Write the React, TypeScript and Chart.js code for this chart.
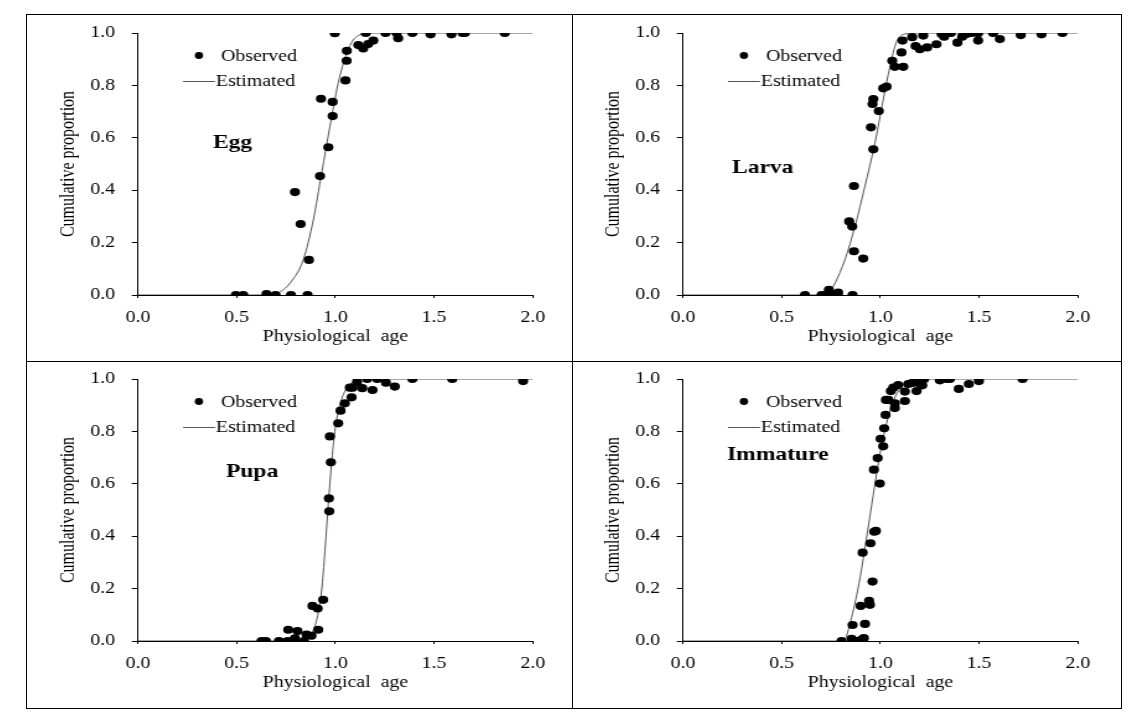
import React, { useEffect, useRef } from "react";
import { Chart, registerables } from "chart.js";

Chart.register(...registerables);

// ---------------- data ----------------
const xTickValues = [0, 0.5, 1.0, 1.5, 2.0];
const yTickValues = [0, 0.2, 0.4, 0.6, 0.8, 1.0];

const stageNames = ["Egg", "Larva", "Pupa", "Immature"];
const legendLabels = ["Observed", "Estimated"];
const xAxisTitle = "Physiological  age";
const yAxisTitle = "Cumulative proportion";

// Egg
const eggObsX = [0.496, 0.533, 0.651, 0.697, 0.775, 0.859, 0.866, 0.824, 0.795, 0.922, 0.964, 0.986, 0.986, 0.927, 1.051, 1.057, 1.058, 0.997, 1.116, 1.141, 1.166, 1.192, 1.154, 1.254, 1.31, 1.318, 1.39, 1.482, 1.588, 1.644, 1.656, 1.858];
const eggObsY = [0, 0, 0.003, 0, 0, 0, 0.134, 0.271, 0.393, 0.454, 0.564, 0.683, 0.737, 0.749, 0.819, 0.894, 0.932, 0.999, 0.954, 0.941, 0.958, 0.971, 1.0, 1.0, 1.0, 0.98, 1.0, 0.995, 0.995, 1.0, 1.0, 1.0];
const eggFitX = [0, 0.68, 0.72, 0.77, 0.837, 0.888, 0.93, 0.972, 1.014, 1.057, 1.09, 1.14, 1.2, 2.0];
const eggFitY = [0, 0, 0.012, 0.045, 0.134, 0.286, 0.464, 0.642, 0.808, 0.922, 0.973, 0.996, 1.0, 1.0];

// Larva
const larvaObsX = [0.618, 0.702, 0.722, 0.739, 0.753, 0.786, 0.859, 0.866, 0.913, 0.842, 0.857, 0.866, 0.964, 0.952, 0.992, 0.96, 0.964, 1.014, 1.031, 1.06, 1.073, 1.116, 1.107, 1.112, 1.161, 1.217, 1.178, 1.2, 1.237, 1.284, 1.31, 1.323, 1.357, 1.39, 1.414, 1.436, 1.462, 1.495, 1.495, 1.571, 1.605, 1.711, 1.816, 1.922];
const larvaObsY = [0, 0, 0, 0.02, 0, 0.009, 0, 0.167, 0.139, 0.281, 0.261, 0.416, 0.556, 0.64, 0.702, 0.729, 0.748, 0.789, 0.795, 0.894, 0.871, 0.871, 0.926, 0.971, 0.984, 0.99, 0.95, 0.938, 0.945, 0.957, 0.996, 0.986, 1.0, 0.963, 0.986, 0.996, 1.0, 0.999, 0.971, 1.0, 0.977, 0.992, 0.995, 1.0];
const larvaFitX = [0, 0.72, 0.75, 0.77, 0.82, 0.871, 0.921, 0.972, 1.014, 1.048, 1.082, 1.124, 1.2, 2.0];
const larvaFitY = [0, 0, 0.02, 0.045, 0.134, 0.261, 0.413, 0.579, 0.744, 0.871, 0.967, 0.996, 1.0, 1.0];

// Pupa
const pupaObsX = [0.626, 0.648, 0.714, 0.761, 0.758, 0.795, 0.808, 0.841, 0.854, 0.879, 0.913, 0.884, 0.91, 0.938, 0.969, 0.967, 0.977, 0.972, 1.014, 1.026, 1.048, 1.082, 1.073, 1.087, 1.11, 1.136, 1.161, 1.188, 1.212, 1.256, 1.301, 1.39, 1.592, 1.951];
const pupaObsY = [0, 0, 0, 0.043, 0, 0.01, 0.038, 0, 0.024, 0.02, 0.043, 0.134, 0.124, 0.157, 0.495, 0.544, 0.682, 0.781, 0.831, 0.879, 0.907, 0.93, 0.967, 0.967, 0.989, 0.965, 1.0, 0.958, 1.0, 0.986, 0.971, 1.0, 1.0, 0.992];
const pupaFitX = [0, 0.84, 0.871, 0.904, 0.93, 0.947, 0.964, 0.98, 0.997, 1.023, 1.057, 1.107, 1.16, 2.0];
const pupaFitY = [0, 0, 0.02, 0.077, 0.191, 0.343, 0.521, 0.673, 0.8, 0.901, 0.965, 0.994, 1.0, 1.0];

// Immature
const immObsX = [0.803, 0.854, 0.879, 0.905, 0.916, 0.859, 0.922, 0.9, 0.943, 0.947, 0.96, 0.91, 0.95, 0.969, 0.977, 0.997, 0.967, 0.986, 1.014, 1.001, 1.019, 1.026, 1.073, 1.028, 1.04, 1.073, 1.053, 1.065, 1.09, 1.124, 1.124, 1.141, 1.161, 1.183, 1.192, 1.212, 1.222, 1.301, 1.335, 1.352, 1.397, 1.448, 1.499, 1.72];
const immObsY = [0, 0.008, 0, 0.005, 0.011, 0.061, 0.065, 0.134, 0.153, 0.138, 0.227, 0.337, 0.373, 0.417, 0.42, 0.601, 0.654, 0.698, 0.743, 0.772, 0.812, 0.863, 0.889, 0.92, 0.92, 0.907, 0.954, 0.967, 0.977, 0.916, 0.952, 0.981, 0.985, 0.954, 0.985, 0.976, 1.0, 0.995, 1.0, 1.0, 0.962, 0.981, 0.992, 1.0];
const immFitX = [0, 0.812, 0.854, 0.897, 0.93, 0.964, 0.997, 1.031, 1.065, 1.107, 1.157, 1.22, 2.0];
const immFitY = [0, 0, 0.09, 0.242, 0.394, 0.559, 0.711, 0.831, 0.914, 0.971, 0.994, 1.0, 1.0];

// ---------------- layout ----------------
const S = 1.24; // horizontal stretch of the original figure
const CW = 438;
const CH = 345;
const AREA_LEFT = 88.7;
const AREA_W = 318.5;
const X_H = 65;
const FONT = "'Liberation Serif', 'Times New Roman', serif";

type PanelDef = {
  left: number;
  top: number;
  areaTop: number;
  stage: string;
  obsX: number[];
  obsY: number[];
  fitX: number[];
  fitY: number[];
  lx: number;
  ly: number;
};

const zip = (xs: number[], ys: number[]) => xs.map((x, i) => ({ x, y: ys[i] }));

const annotPlugin = {
  id: "annot",
  afterDatasetsDraw(chart: any, _args: any, opts: any) {
    const { ctx, chartArea } = chart;
    const L = chartArea.left;
    const T = chartArea.top;
    const px = (d: number) => L + d / S;
    ctx.save();
    ctx.fillStyle = "#000";
    ctx.beginPath();
    ctx.arc(px(61), T + 22.5, 3.4, 0, Math.PI * 2);
    ctx.fill();
    ctx.font = `16px ${FONT}`;
    ctx.textBaseline = "alphabetic";
    ctx.textAlign = "left";
    ctx.fillText(legendLabels[0], px(83), T + 27.5);
    ctx.strokeStyle = "#555";
    ctx.lineWidth = 1;
    ctx.beginPath();
    ctx.moveTo(px(45), T + 48.5);
    ctx.lineTo(px(77), T + 48.5);
    ctx.stroke();
    ctx.fillText(legendLabels[1], px(78), T + 52.5);
    ctx.font = `bold 19px ${FONT}`;
    ctx.fillText(opts.stage, px(opts.lx), T + opts.ly);
    ctx.restore();
  },
};

function Panel(p: PanelDef) {
  const ref = useRef<HTMLCanvasElement>(null);
  useEffect(() => {
    const canvas = ref.current!;
    const tickFont = { family: FONT, size: 16 };
    const chart = new Chart(canvas, {
      type: "scatter",
      data: {
        datasets: [
          {
            label: legendLabels[0],
            data: zip(p.obsX, p.obsY),
            pointRadius: 4.1,
            pointBackgroundColor: "#000",
            pointBorderWidth: 0,
            showLine: false,
          } as any,
          {
            type: "line",
            label: legendLabels[1],
            data: zip(p.fitX, p.fitY),
            borderColor: "#555",
            borderWidth: 1,
            pointRadius: 0,
            fill: false,
            cubicInterpolationMode: "monotone",
          } as any,
        ],
      },
      options: {
        animation: false,
        responsive: false,
        devicePixelRatio: 1,
        events: [],
        layout: { padding: { left: 0, top: p.areaTop, right: CW - AREA_LEFT - AREA_W, bottom: 0 } },
        plugins: {
          legend: { display: false },
          tooltip: { enabled: false },
          annot: { stage: p.stage, lx: p.lx, ly: p.ly },
        } as any,
        scales: {
          x: {
            type: "linear",
            min: 0,
            max: 2,
            afterFit: (s: any) => {
              s.height = X_H;
              s.paddingLeft = 0;
              s.paddingRight = 0;
            },
            afterBuildTicks: (s: any) => {
              s.ticks = xTickValues.map((v) => ({ value: v }));
            },
            ticks: {
              padding: 10.5,
              color: "#000",
              font: tickFont,
              maxRotation: 0,
              autoSkip: false,
              callback: (v: any) => Number(v).toFixed(1),
            },
            grid: { display: true, drawOnChartArea: false, drawTicks: true, tickLength: 3, color: "#000" },
            border: { display: true, color: "#000", width: 1 },
            title: { display: true, text: xAxisTitle, color: "#000", font: tickFont, padding: { top: 0, bottom: 14 } },
          },
          y: {
            type: "linear",
            min: 0,
            max: 1,
            afterFit: (s: any) => {
              s.width = AREA_LEFT;
              s.paddingTop = 0;
              s.paddingBottom = 0;
            },
            afterBuildTicks: (s: any) => {
              s.ticks = yTickValues.map((v) => ({ value: v }));
            },
            ticks: {
              padding: 13.5,
              color: "#000",
              font: tickFont,
              callback: (v: any) => Number(v).toFixed(1),
            },
            grid: { display: true, drawOnChartArea: false, drawTicks: true, tickLength: 5, color: "#000" },
            border: { display: true, color: "#000", width: 1 },
            title: { display: true, text: yAxisTitle, color: "#000", font: tickFont, padding: { top: 23, bottom: 0 } },
          },
        },
      } as any,
      plugins: [annotPlugin],
    });
    return () => chart.destroy();
  }, []);
  return (
    <canvas
      ref={ref}
      width={CW}
      height={CH}
      style={{ position: "absolute", left: p.left, top: p.top, width: CW * S, height: CH }}
    />
  );
}

const panels: PanelDef[] = [
  { left: 28, top: 15, areaTop: 18, stage: stageNames[0], obsX: eggObsX, obsY: eggObsY, fitX: eggFitX, fitY: eggFitY, lx: 75, ly: 114.5 },
  { left: 573, top: 15, areaTop: 18, stage: stageNames[1], obsX: larvaObsX, obsY: larvaObsY, fitX: larvaFitX, fitY: larvaFitY, lx: 49, ly: 140 },
  { left: 28, top: 361, areaTop: 18, stage: stageNames[2], obsX: pupaObsX, obsY: pupaObsY, fitX: pupaFitX, fitY: pupaFitY, lx: 88, ly: 97.7 },
  { left: 573, top: 361, areaTop: 18, stage: stageNames[3], obsX: immObsX, obsY: immObsY, fitX: immFitX, fitY: immFitY, lx: 44, ly: 81 },
];

export default function App() {
  return (
    <div style={{ position: "absolute", left: 0, top: 0, width: 1135, height: 720, background: "#fff", overflow: "hidden" }}>
      {panels.map((p) => (
        <Panel key={p.stage} {...p} />
      ))}
      <div style={{ position: "absolute", left: 26, top: 14, width: 1096, height: 695, border: "1px solid #000", boxSizing: "border-box" }} />
      <div style={{ position: "absolute", left: 572, top: 14, width: 1, height: 695, background: "#000" }} />
      <div style={{ position: "absolute", left: 26, top: 361, width: 1096, height: 1, background: "#000" }} />
    </div>
  );
}
